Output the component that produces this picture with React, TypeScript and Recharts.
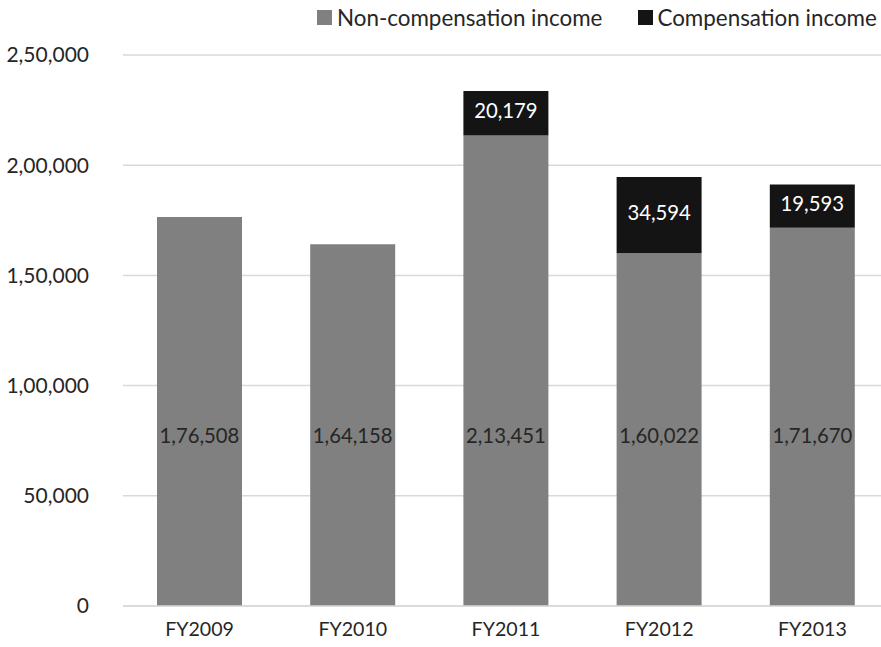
import { BarChart, Bar, XAxis, YAxis, CartesianGrid, LabelList } from 'recharts'

const YEARS = ['FY2009', 'FY2010', 'FY2011', 'FY2012', 'FY2013']
const NON_COMP = [176508, 164158, 213451, 160022, 171670]
const COMP = [0, 0, 20179, 34594, 19593]
const Y_TICKS = [0, 50000, 100000, 150000, 200000, 250000]

const GRAY = '#808080'
const BLACK = '#141414'
const TEXT = '#262626'
const GRID = '#d9d9d9'
const FONT = 'Lato, "Open Sans", sans-serif'

const data = YEARS.map((y, i) => ({ year: y, nonComp: NON_COMP[i], comp: COMP[i] || null }))

// Indian grouping: 2,50,000
function fmtIN(v: number) {
  const s = String(Math.round(v))
  if (s.length <= 3) return s
  const last3 = s.slice(-3)
  let rest = s.slice(0, -3)
  const parts: string[] = []
  while (rest.length > 2) {
    parts.unshift(rest.slice(-2))
    rest = rest.slice(0, -2)
  }
  if (rest) parts.unshift(rest)
  return parts.join(',') + ',' + last3
}

function BaseLabel(props: any) {
  const { x, y, width, height, value } = props
  return (
    <text x={x + width / 2} y={y + height - 168} textAnchor="middle" dominantBaseline="middle"
      fontSize={20.3} fill={TEXT} fontFamily={FONT}>
      {fmtIN(value)}
    </text>
  )
}

function TopLabel(props: any) {
  const { x, y, width, height, value } = props
  if (!value) return null
  return (
    <text x={x + width / 2} y={y + height / 2} textAnchor="middle" dominantBaseline="middle"
      fontSize={20.3} fill="#ffffff" fontFamily={FONT}>
      {fmtIN(value)}
    </text>
  )
}

export default function App() {
  return (
    <div style={{ position: 'absolute', left: 0, top: 0, width: 881, height: 647, overflow: 'hidden', background: '#fff', fontFamily: FONT }}>
      <div style={{ position: 'absolute', top: 4, left: 317, display: 'flex', alignItems: 'center', fontSize: 22.4, color: TEXT, whiteSpace: 'nowrap' }}>
        <span style={{ width: 15, height: 15, background: GRAY, display: 'inline-block', marginRight: 5 }} />
        <span>Non-compensation income</span>
        <span style={{ width: 15, height: 15, background: BLACK, display: 'inline-block', marginLeft: 36, marginRight: 4 }} />
        <span>Compensation income</span>
      </div>
      <BarChart width={889} height={647} data={data} margin={{ top: 55, right: 0, left: 0, bottom: 0 }} barSize={85}>
        <CartesianGrid vertical={false} stroke={GRID} strokeWidth={1.5} />
        <XAxis dataKey="year" axisLine={{ stroke: GRID, strokeWidth: 1.5 }} tickLine={false} height={41}
          tick={{ fill: TEXT, fontSize: 19.6, fontFamily: FONT }} tickMargin={10} />
        <YAxis domain={[0, 250000]} ticks={Y_TICKS} tickFormatter={fmtIN} axisLine={false} tickLine={false}
          width={123} tickMargin={28} tick={{ fill: TEXT, fontSize: 21, fontFamily: FONT }} />
        <Bar dataKey="nonComp" stackId="a" fill={GRAY} isAnimationActive={false}>
          <LabelList dataKey="nonComp" content={BaseLabel} />
        </Bar>
        <Bar dataKey="comp" stackId="a" fill={BLACK} isAnimationActive={false}>
          <LabelList dataKey="comp" content={TopLabel} />
        </Bar>
      </BarChart>
    </div>
  )
}
